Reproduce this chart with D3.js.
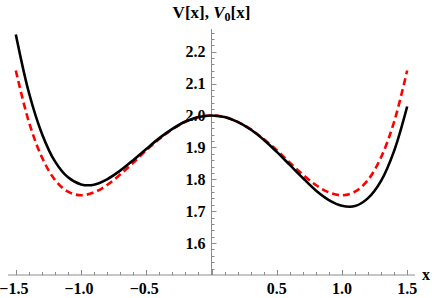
<!DOCTYPE html>
<html>
<head>
<meta charset="utf-8">
<script src="https://cdn.jsdelivr.net/npm/d3@7"></script>
<style>
  body { margin: 0; background: #fff; }
  svg text { font-family: "Liberation Serif", "DejaVu Serif", serif; font-weight: bold; }
</style>
</head>
<body>
<div id="chart"></div>
<script>
let width = 436, height = 298;

// sample points
let xs = [-1.5, -1.4, -1.3, -1.2, -1.1, -1.0, -0.9, -0.8, -0.7, -0.6, -0.5, -0.4, -0.3, -0.2, -0.1,
    0, 0.1, 0.2, 0.3, 0.4, 0.5, 0.6, 0.7, 0.8, 0.9, 1.0, 1.1, 1.2, 1.3, 1.4, 1.5];
// V[x] (black, solid)
let vVals = [2.254, 2.072, 1.943, 1.856, 1.806, 1.784, 1.783, 1.800, 1.827, 1.860, 1.895, 1.929, 1.958, 1.981, 1.995,
    2.000, 1.995, 1.980, 1.956, 1.924, 1.886, 1.845, 1.804, 1.765, 1.735, 1.717, 1.716, 1.741, 1.795, 1.889, 2.028];
// V0[x] (red, dashed)
let v0Vals = [2.141, 1.980, 1.869, 1.798, 1.761, 1.750, 1.759, 1.782, 1.815, 1.852, 1.891, 1.926, 1.957, 1.980, 1.995,
    2.000, 1.995, 1.980, 1.957, 1.926, 1.891, 1.852, 1.815, 1.782, 1.759, 1.750, 1.761, 1.798, 1.869, 1.980, 2.141];

let xTicks = [-1.5, -1.0, -0.5, 0.5, 1.0, 1.5];
let yTicks = [1.6, 1.7, 1.8, 1.9, 2.0, 2.1, 2.2];

let svg = d3.select("#chart").append("svg")
    .attr("width", width)
    .attr("height", height);

let x = d3.scaleLinear().domain([-1.56, 1.56]).range([8, 415]);
let y = d3.scaleLinear().domain([1.5, 2.271]).range([275, 29]);

let axisColor = "#8c8c8c";

// x axis line + ticks (pointing up, Mathematica style)
svg.append("line")
    .attr("x1", x(-1.56)).attr("x2", x(1.56))
    .attr("y1", y(1.5)).attr("y2", y(1.5))
    .attr("stroke", axisColor).attr("stroke-width", 1);

let xMinor = d3.range(-15, 16).map(d => d / 10);
svg.append("g").selectAll("line").data(xMinor).enter().append("line")
    .attr("x1", d => Math.round(x(d)) + 0.5).attr("x2", d => Math.round(x(d)) + 0.5)
    .attr("y1", y(1.5))
    .attr("y2", d => y(1.5) - (Math.abs(Math.round(d * 10)) % 5 == 0 ? 5 : 3))
    .attr("stroke", axisColor).attr("stroke-width", 1);

svg.append("g").selectAll("text").data(xTicks).enter().append("text")
    .attr("x", d => x(d) + (d < 0 ? -2 : 0))
    .attr("y", 294)
    .attr("text-anchor", "middle")
    .style("font-size", "16px")
    .text(d => (d < 0 ? "\u2212" : "") + Math.abs(d).toFixed(1));

svg.append("text")
    .attr("x", 422).attr("y", 280)
    .style("font-size", "16px")
    .text("x");

// y axis line + ticks (pointing right)
svg.append("line")
    .attr("x1", x(0)).attr("x2", x(0))
    .attr("y1", y(1.5)).attr("y2", y(2.271))
    .attr("stroke", axisColor).attr("stroke-width", 1);

let yMinor = d3.range(76, 114).map(d => d / 50);
svg.append("g").selectAll("line").data(yMinor).enter().append("line")
    .attr("y1", d => Math.round(y(d)) + 0.5).attr("y2", d => Math.round(y(d)) + 0.5)
    .attr("x1", x(0))
    .attr("x2", d => x(0) + (Math.round(d * 50) % 5 == 0 ? 5 : 3))
    .attr("stroke", axisColor).attr("stroke-width", 1);

svg.append("g").selectAll("text").data(yTicks).enter().append("text")
    .attr("x", x(0) - 6)
    .attr("y", d => y(d) + 5.5)
    .attr("text-anchor", "end")
    .style("font-size", "16px")
    .text(d => d.toFixed(1));

// title
let title = svg.append("text")
    .attr("x", x(0)).attr("y", 18)
    .attr("text-anchor", "middle")
    .style("font-size", "17px");
title.append("tspan").text("V[x], ");
title.append("tspan").style("font-style", "italic").text("V");
title.append("tspan").attr("dy", 3).style("font-size", "12px").text("0");
title.append("tspan").attr("dy", -3).text("[x]");

let line = d3.line().curve(d3.curveCatmullRom);

// red dashed V0
svg.append("path")
    .attr("d", line(xs.map((d, i) => [x(d), y(v0Vals[i])])))
    .attr("fill", "none")
    .attr("stroke", "#ff0000")
    .attr("stroke-width", 2.6)
    .attr("stroke-dasharray", "7,4");

// black solid V
svg.append("path")
    .attr("d", line(xs.map((d, i) => [x(d), y(vVals[i])])))
    .attr("fill", "none")
    .attr("stroke", "#000")
    .attr("stroke-width", 2.6);
</script>
</body>
</html>
